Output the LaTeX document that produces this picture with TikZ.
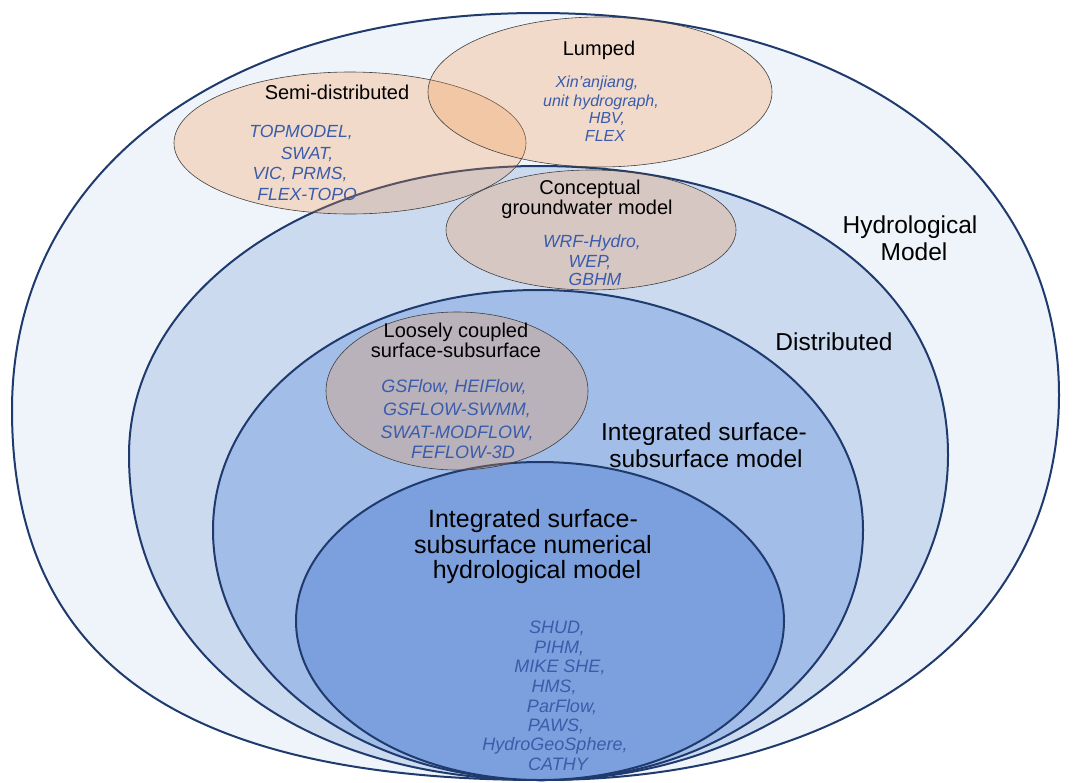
\documentclass[tikz,border=0pt]{standalone}
\usepackage{fontspec}
\setmainfont{Liberation Sans}
\definecolor{outerfill}{HTML}{EFF4FB}
\definecolor{distfill}{HTML}{CCDAF0}
\definecolor{intfill}{HTML}{A2BDE7}
\definecolor{numfill}{HTML}{7BA0DD}
\definecolor{navy}{HTML}{1F3B6E}
\definecolor{peach}{HTML}{F79646}
\definecolor{thinline}{HTML}{404040}
\definecolor{txtblue}{HTML}{3A5CAB}
\begin{document}
\begin{tikzpicture}[x=1pt,y=-1pt,
  layer/.style={draw=navy, line width=2pt},
  blob/.style={fill=peach, fill opacity=0.27, draw=thinline, draw opacity=1, line width=0.6pt},
  lbl/.style={font=\fontsize{20}{22}\selectfont, anchor=base, inner sep=0pt, text=black},
  biglbl/.style={font=\fontsize{24.5}{27}\selectfont, anchor=base, inner sep=0pt, text=black},
  numlbl/.style={font=\fontsize{25}{27}\selectfont, anchor=base, inner sep=0pt, text=black},
  bluesmall/.style={font=\fontsize{16}{18}\selectfont\itshape, anchor=base, inner sep=0pt, text=txtblue},
  bluemid/.style={font=\fontsize{17.6}{20}\selectfont\itshape, anchor=base, inner sep=0pt, text=txtblue},
  bluebig/.style={font=\fontsize{18}{20}\selectfont\itshape, anchor=base, inner sep=0pt, text=txtblue}]
\useasboundingbox (0,0) rectangle (1076,782);
\fill[white] (0,0) rectangle (1076,782);
% nested blue egg-shaped regions, all touching at the bottom
\draw[layer, fill=outerfill] (538,13)
  .. controls (850.6,13) and (1059,165.8) .. (1059,395)
  .. controls (1059,626) and (852.2,780) .. (542,780)
  .. controls (181.6,780) and (12,661.6) .. (12,410)
  .. controls (12,171.8) and (222.4,13) .. (538,13) -- cycle;
\draw[layer, fill=distfill] (538,166)
  .. controls (784,166) and (948,281.6) .. (948,455)
  .. controls (948,633.75) and (765.3,780) .. (542,780)
  .. controls (294.2,780) and (129,650) .. (129,455)
  .. controls (129,293.2) and (309,166) .. (538,166) -- cycle;
\draw[layer, fill=intfill] (538,290)
  .. controls (720,290) and (863,395.6) .. (863,530)
  .. controls (863,670) and (721.8,780) .. (542,780)
  .. controls (357.8,780) and (213,670) .. (213,530)
  .. controls (213,395.6) and (356,290) .. (538,290) -- cycle;
\draw[layer, fill=numfill] (540,621) ellipse [x radius=244pt, y radius=159pt];
% translucent category ellipses
\draw[blob] (350,143) ellipse [x radius=176pt, y radius=71pt];
\draw[blob] (600,92) ellipse [x radius=172pt, y radius=75pt];
\draw[blob] (591,230) ellipse [x radius=145pt, y radius=60pt];
\draw[blob] (457,391) ellipse [x radius=131pt, y radius=79pt];
% Lumped
\node[lbl] (lumped) at (599,55) {Lumped};
\node[bluesmall] (lu1) at (597,87) {Xin’anjiang,};
\node[bluesmall] (lu2) at (601,106) {unit hydrograph,};
\node[bluesmall] (lu3) at (607,123) {HBV,};
\node[bluesmall] (lu4) at (605,141) {FLEX};
% Semi-distributed
\node[lbl] (semi) at (337,99) {Semi-distributed};
\node[bluemid] (se1) at (301,137) {TOPMODEL,};
\node[bluemid] (se2) at (307,159) {SWAT,};
\node[bluemid] (se3) at (300,179) {VIC, PRMS,};
\node[bluemid] (se4) at (307,200) {FLEX-TOPO};
% Conceptual groundwater
\node[lbl] (conc1) at (590,194) {Conceptual};
\node[lbl] (conc2) at (587,214) {groundwater model};
\node[bluemid] (co1) at (592,247) {WRF-Hydro,};
\node[bluemid] (co2) at (590,267) {WEP,};
\node[bluemid] (co3) at (595,285) {GBHM};
% Hydrological model
\node[biglbl] (hyd1) at (910,233) {Hydrological};
\node[biglbl] (hyd2) at (914,260) {Model};
% Distributed
\node[biglbl] (dist) at (834,350) {Distributed};
% Loosely coupled
\node[lbl] (loose1) at (456,337) {Loosely coupled};
\node[lbl] (loose2) at (456,357) {surface-subsurface};
\node[bluebig] (lo1) at (454,392) {GSFlow, HEIFlow,};
\node[bluebig] (lo2) at (457,415) {GSFLOW-SWMM,};
\node[bluebig] (lo3) at (457,438) {SWAT-MODFLOW,};
\node[bluebig] (lo4) at (463,458) {FEFLOW-3D};
% Integrated surface-subsurface model
\node[biglbl] (int1) at (704,440) {Integrated surface-};
\node[biglbl] (int2) at (706,467) {subsurface model};
% Numerical model
\node[numlbl] (num1) at (533,527) {Integrated surface-};
\node[numlbl] (num2) at (533,553) {subsurface numerical};
\node[numlbl] (num3) at (537,578) {hydrological model};
\node[bluebig] (nu1) at (557,633) {SHUD,};
\node[bluebig] (nu2) at (559,653) {PIHM,};
\node[bluebig] (nu3) at (560,672) {MIKE SHE,};
\node[bluebig] (nu4) at (554,692) {HMS,};
\node[bluebig] (nu5) at (562,712) {ParFlow,};
\node[bluebig] (nu6) at (556,731) {PAWS,};
\node[bluebig] (nu7) at (555,750) {HydroGeoSphere,};
\node[bluebig] (nu8) at (558,770) {CATHY};
\end{tikzpicture}
\end{document}
